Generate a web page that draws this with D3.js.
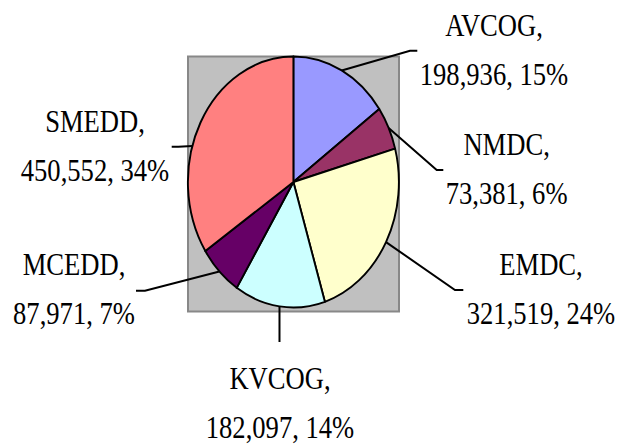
<!DOCTYPE html>
<html>
<head>
<meta charset="utf-8">
<script src="https://cdn.jsdelivr.net/npm/d3@7"></script>
<style>
  html, body { margin: 0; padding: 0; background: #fff; }
  svg { display: block; }
  text { font-family: "Liberation Serif", "Times New Roman", serif; fill: #000; }
</style>
</head>
<body>
<svg id="chart" width="617" height="444"></svg>
<script>
// ---- data ----
const categories = ["AVCOG", "NMDC", "EMDC", "KVCOG", "MCEDD", "SMEDD"];
const values = [198936, 73381, 321519, 182097, 87971, 450552];
const sliceColors = ["#9999FF", "#993366", "#FFFFCC", "#CCFFFF", "#660066", "#FF8080"];

// ---- layout (label anchor centre x, first baseline y, leader elbow & end) ----
const labelX = [494, 506.6, 541, 280, 74, 95];
const labelY = [36, 155, 275, 389, 275, 131.7];
const elbowX = [410, 436.7, 455, null, 145, 178.3];
const elbowY = [50.7, 170, 290, 342, 290.7, 146.7];
const endX = [417.3, 443.3, 463.3, null, 136, 171.7];
const leaderAngleShift = [0, 0, 0, 0, 0, -11.6]; // degrees

const W = 617, H = 444;
const cx = 293.4, cy = 182, rx = 105.5, ry = 125.5;
const plot = { x: 188, y: 56.5, w: 211, h: 255 };
const lineGap = 49;
const fontSize = 26.6, textStretch = 1.22;

const svg = d3.select("#chart");

svg.append("rect")
  .attr("x", plot.x).attr("y", plot.y)
  .attr("width", plot.w).attr("height", plot.h)
  .attr("fill", "#c0c0c0")
  .attr("stroke", "#888888")
  .attr("stroke-width", 2);

const pie = d3.pie().sort(null).value(d => d);
const arcs = pie(values);
const arc = d3.arc().innerRadius(0).outerRadius(rx);

const g = svg.append("g")
  .attr("transform", `translate(${cx},${cy}) scale(1,${ry / rx})`);

g.selectAll("path.slice")
  .data(arcs)
  .enter().append("path")
  .attr("class", "slice")
  .attr("d", arc)
  .attr("fill", (d, i) => sliceColors[i])
  .attr("stroke", "#000")
  .attr("stroke-width", 1.9)
  .attr("stroke-linejoin", "round")
  .attr("vector-effect", "non-scaling-stroke");

const total = d3.sum(values);
const fmt = d3.format(",");

arcs.forEach((d, i) => {
  const mid = (d.startAngle + d.endAngle) / 2 + leaderAngleShift[i] * Math.PI / 180;
  const sx = cx + rx * Math.sin(mid);
  const sy = cy - ry * Math.cos(mid);
  const ex = elbowX[i] == null ? sx : elbowX[i];
  const fx = endX[i] == null ? ex : endX[i];
  const pts = [[sx, sy], [ex, elbowY[i]], [fx, elbowY[i]]];
  svg.append("path")
    .attr("d", d3.line()(pts))
    .attr("fill", "none")
    .attr("stroke", "#000")
    .attr("stroke-width", 2);

  const pct = Math.round(values[i] / total * 100) + "%";
  const lines = [categories[i] + ",", fmt(values[i]) + ", " + pct];
  lines.forEach((t, k) => {
    svg.append("text")
      .attr("transform", `translate(${labelX[i]},${labelY[i] + k * lineGap}) scale(1,${textStretch})`)
      .attr("text-anchor", "middle")
      .style("font-size", fontSize + "px")
      .text(t);
  });
});
</script>
</body>
</html>
